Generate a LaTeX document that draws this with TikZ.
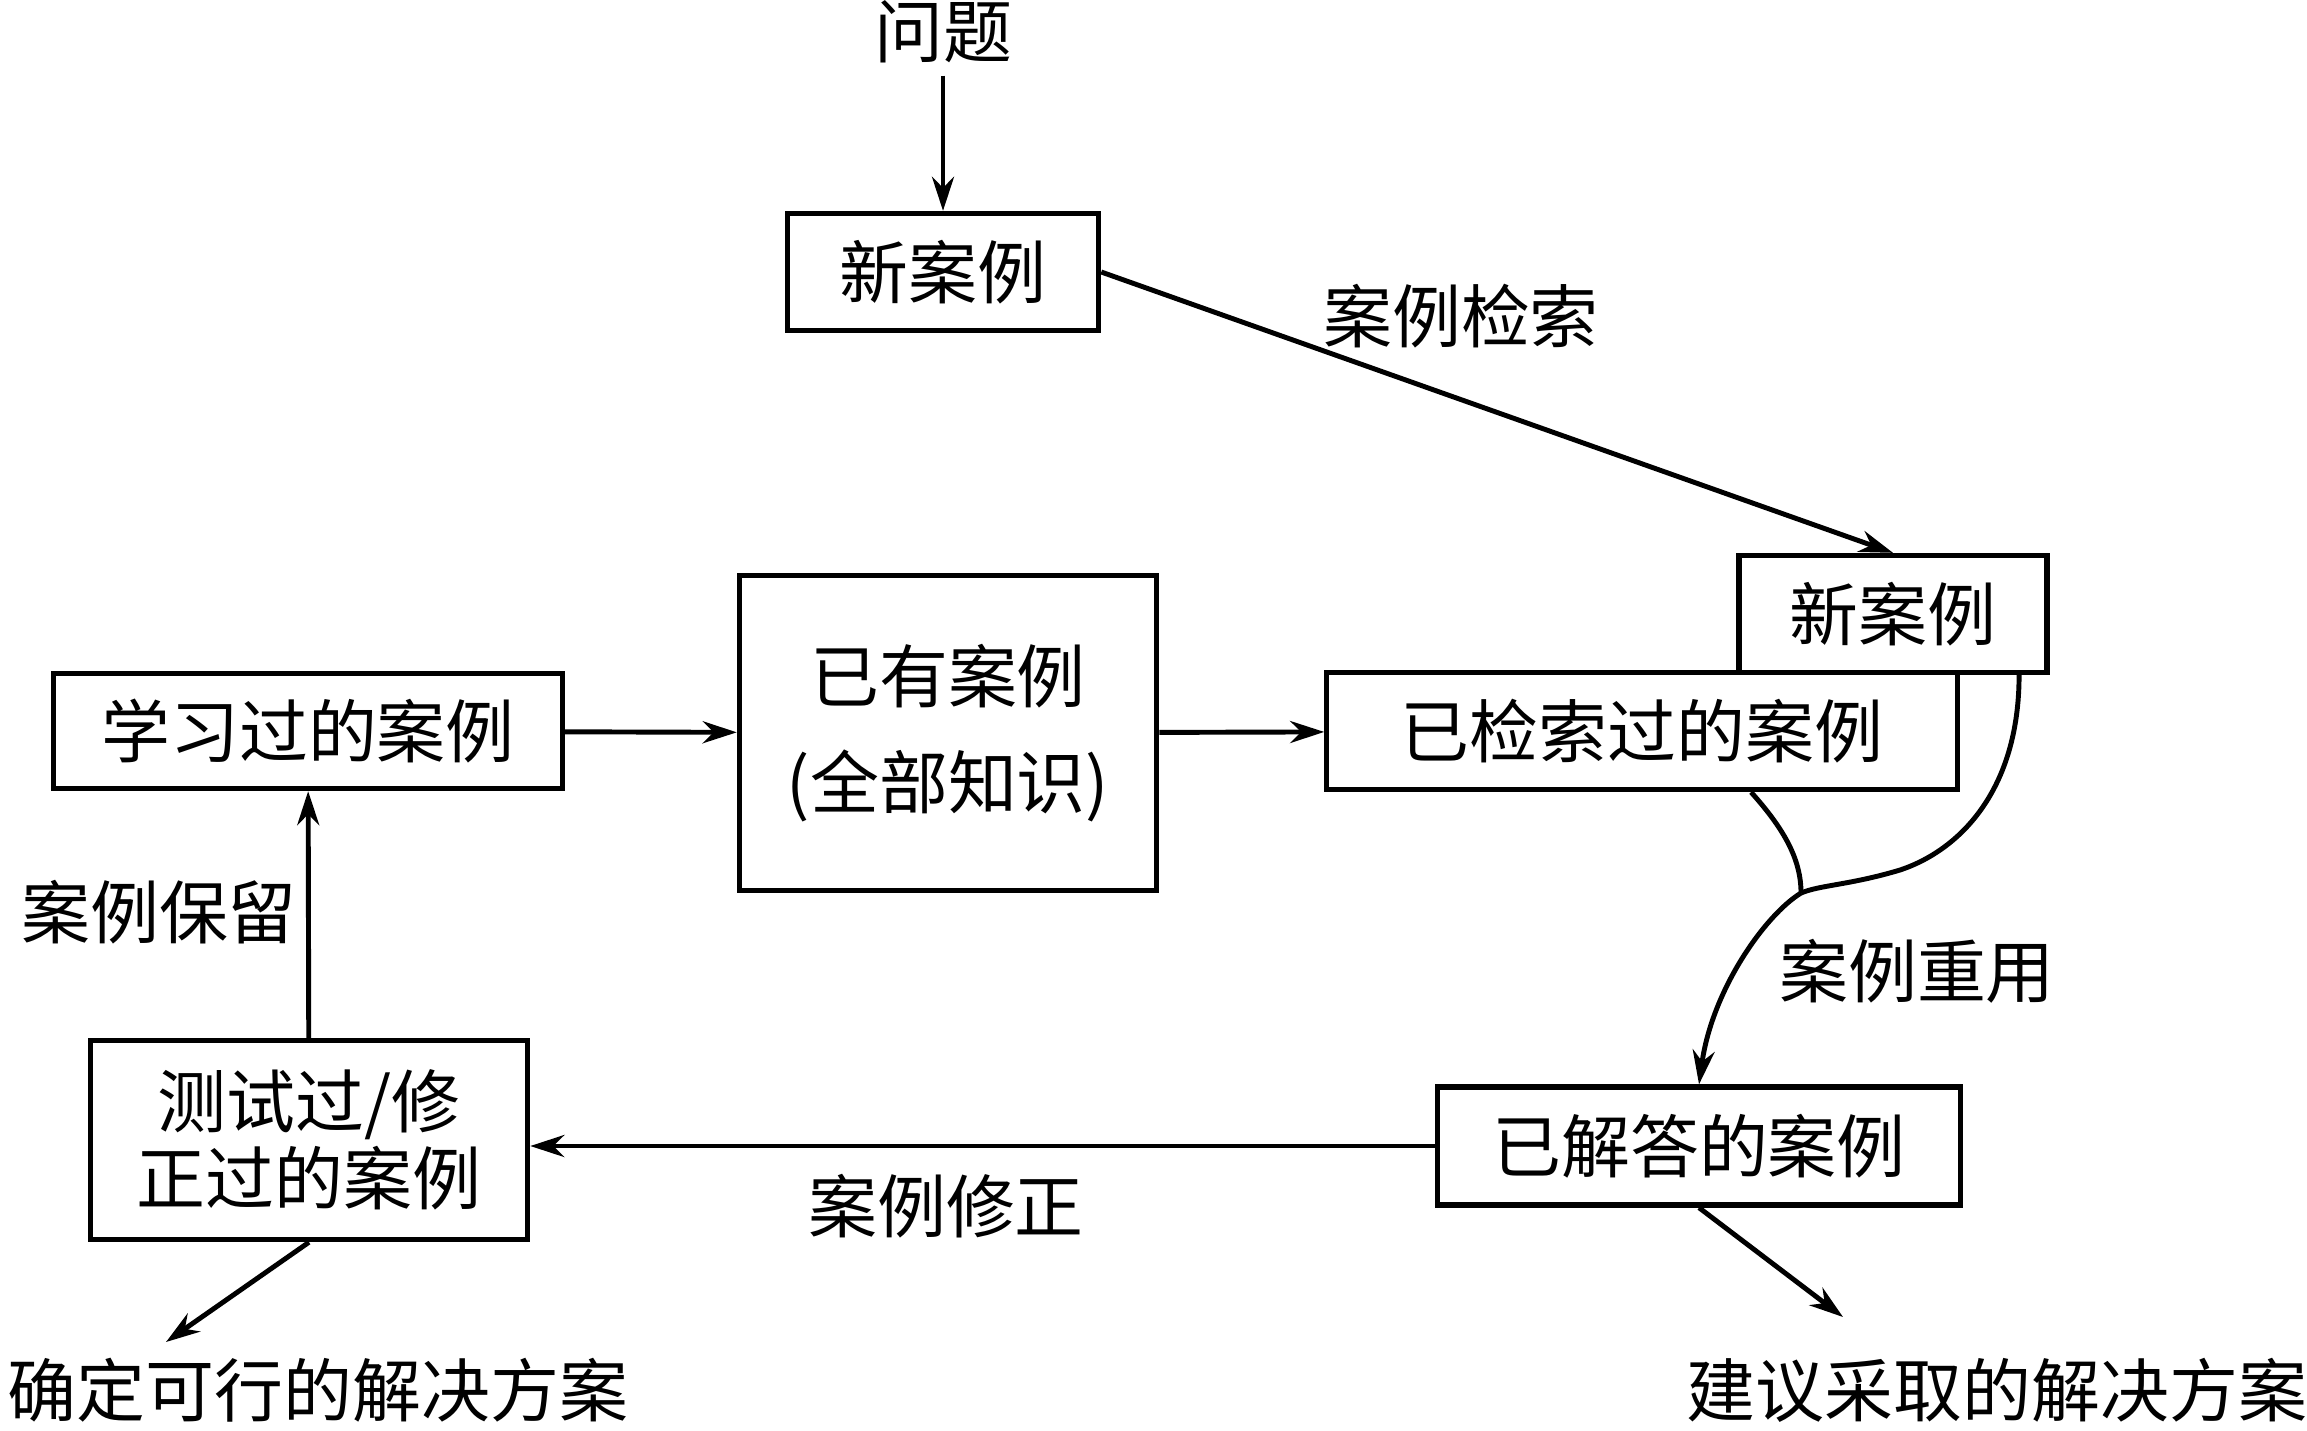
\documentclass[tikz,border=0pt]{standalone}
\usepackage{fontspec}
\setmainfont{Noto Sans CJK SC}
\usetikzlibrary{arrows.meta}

\begin{document}
\begin{tikzpicture}[x=0.01cm, y=-0.01cm, >={Stealth[length=3.4mm,width=2.2mm]},
    every node/.style={font=\fontsize{19.6pt}{24pt}\selectfont},
    box/.style={draw, line width=1.5pt, inner sep=0pt, align=center},
    line/.style={line width=1.4pt}]
    \useasboundingbox (0,0) rectangle (2307,1430);

    \node (Q) at (943,32) {问题};
    \node[box, minimum width=3.11cm, minimum height=1.17cm] (N1) at (943,272) {新案例};
    \node[box, minimum width=3.08cm, minimum height=1.17cm] (N2) at (1893,614) {新案例};
    \node[box, minimum width=6.30cm, minimum height=1.17cm] (R) at (1642,731) {已检索过的案例};
    \node[box, minimum width=4.17cm, minimum height=3.15cm, font=\fontsize{19.6pt}{30pt}\selectfont] (K) at (948,733) {已有案例\\(全部知识)};
    \node[box, minimum width=5.08cm, minimum height=1.15cm] (L) at (308,731) {学习过的案例};
    \node[box, minimum width=5.23cm, minimum height=1.18cm] (S) at (1699,1146) {已解答的案例};
    \node[box, minimum width=4.37cm, minimum height=1.99cm, font=\fontsize{19.6pt}{22pt}\selectfont] (T) at (309,1140) {测试过/修\\正过的案例};

    \node (A1) at (1461,316) {案例检索};
    \node (A2) at (1917,971) {案例重用};
    \node (A3) at (946,1206) {案例修正};
    \node (A4) at (159,912) {案例保留};
    \node (O1) at (318,1390) {确定可行的解决方案};
    \node (O2) at (1997,1390) {建议采取的解决方案};

    \coordinate (M) at (1801,893);
    \coordinate (E1) at (166,1342);
    \coordinate (E2) at (1843,1317);

    \draw[line,->] (Q) -- (N1);
    \draw[line,->] (N1.east) -- (N2.north);
    \draw[line,->] (L) -- (K);
    \draw[line,->] (K) -- (R);
    \draw[line] ([xshift=1.09cm]R.south) .. controls (1785,830) and (1801,860) .. (M);
    \draw[line] ([xshift=1.26cm]N2.south) .. controls (2019,790) and (1960,850) .. (1900,870)
        .. controls (1850,885) and (1820,885) .. (M);
    \draw[line,->] (M) .. controls (1765,915) and (1712,990) .. (S.north);
    \draw[line,->] (S.west) -- (S.west -| T.east);
    \draw[line,->] (T) -- (L);
    \draw[line,->] (T.south) -- (E1);
    \draw[line,->] (S.south) -- (E2);

\end{tikzpicture}
\end{document}
